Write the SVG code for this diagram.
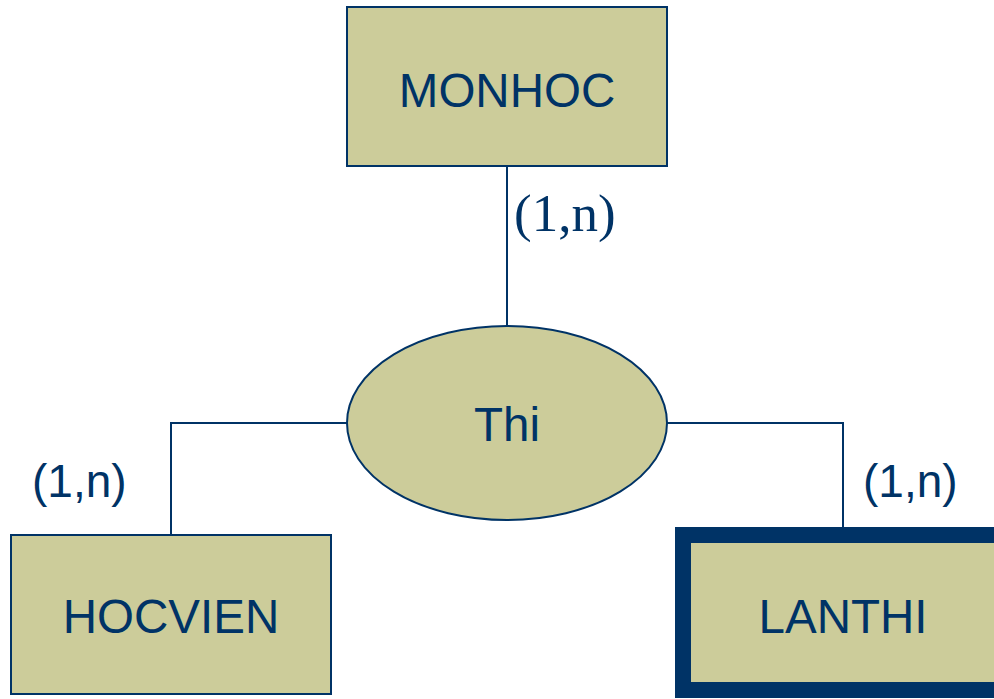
<svg xmlns="http://www.w3.org/2000/svg" width="994" height="699" viewBox="0 0 994 699">
<style>
.ent{fill:#CCCC9A;stroke:#003366;stroke-width:2}
.weak{fill:#CCCC9A;stroke:#003366;stroke-width:16}
.lbl{font-family:"Liberation Sans",Arial,sans-serif;font-size:47.5px;fill:#003366;text-anchor:middle}
.card{font-family:"Liberation Sans",Arial,sans-serif;font-size:46px;fill:#003366}
.cardS{font-family:"Liberation Serif","Times New Roman",serif;font-size:53px;fill:#003366}
.conn{fill:none;stroke:#003366;stroke-width:2}
</style>
<rect width="994" height="699" fill="#ffffff"/>
<g id="connectors">
<line class="conn" x1="507" y1="166" x2="507" y2="327"/>
<polyline class="conn" points="348,423 171,423 171,535"/>
<polyline class="conn" points="666,423 843,423 843,528"/>
</g>
<g id="MONHOC">
<rect class="ent" x="347" y="7" width="320" height="159"/>
<text class="lbl" x="507" y="107">MONHOC</text>
</g>
<g id="Thi">
<ellipse class="ent" cx="507" cy="423" rx="160" ry="97"/>
<text class="lbl" x="507" y="441">Thi</text>
</g>
<g id="HOCVIEN">
<rect class="ent" x="11" y="535" width="320" height="159"/>
<text class="lbl" x="171" y="633">HOCVIEN</text>
</g>
<g id="LANTHI">
<rect class="weak" x="683" y="535" width="330" height="155"/>
<text class="lbl" x="843" y="633">LANTHI</text>
</g>
<g id="labels">
<text class="cardS" x="514" y="231">(1,n)</text>
<text class="card" x="32" y="497">(1,n)</text>
<text class="card" x="863" y="497">(1,n)</text>
</g>
</svg>
